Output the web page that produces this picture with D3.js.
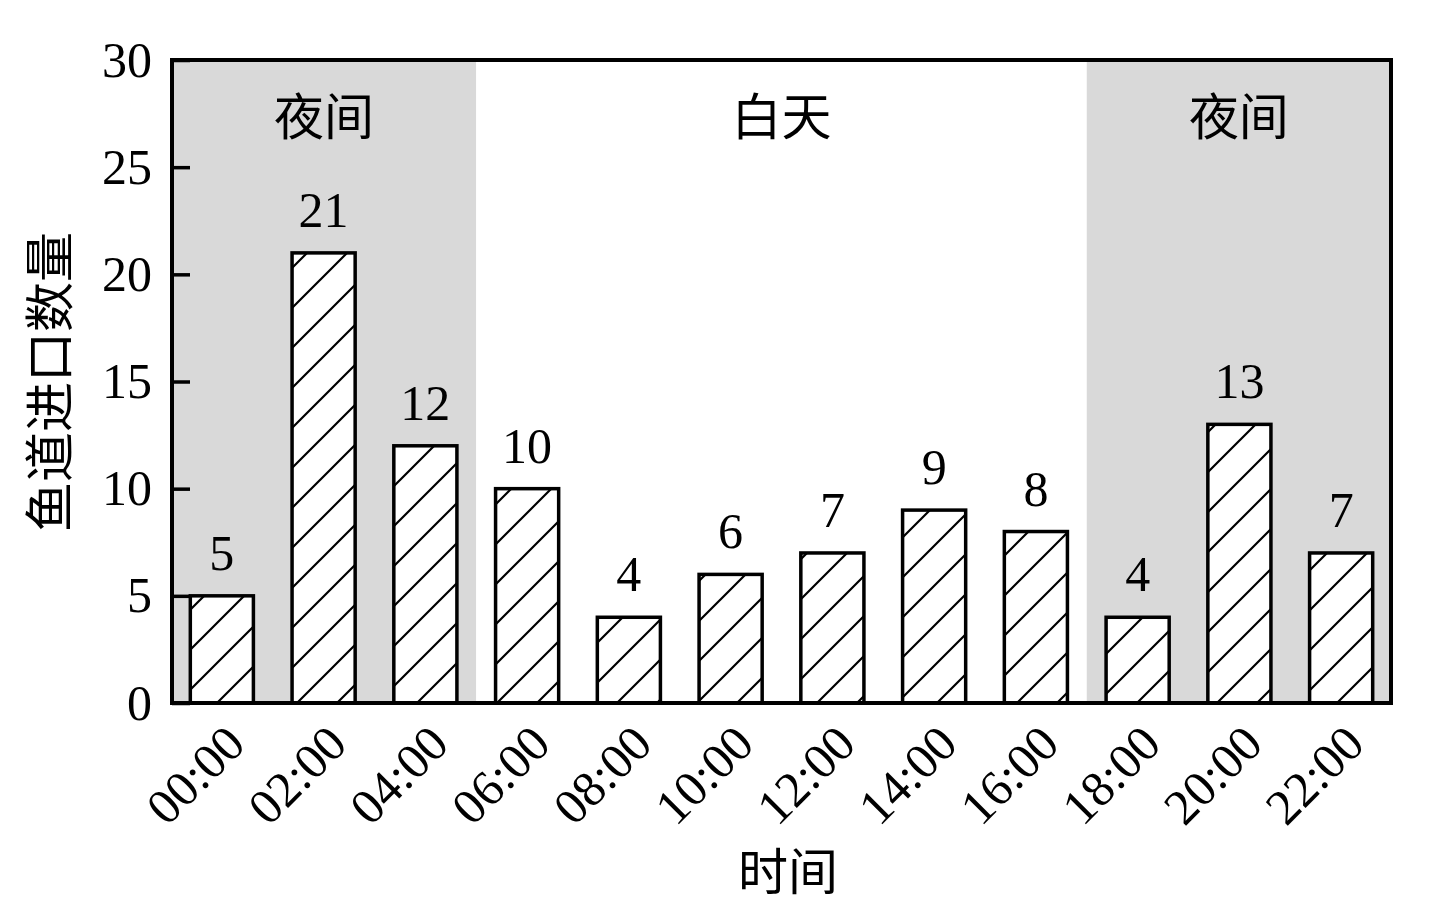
<!DOCTYPE html>
<html>
<head>
<meta charset="utf-8">
<script src="https://cdn.jsdelivr.net/npm/d3@7"></script>
<style>
  body { margin: 0; background: #fff; }
  .num { font-family: "Liberation Serif", "Times New Roman", serif; }
  .cjk { font-family: "Noto Sans CJK SC", sans-serif; }
</style>
</head>
<body>
<svg id="chart"></svg>
<script>
// chart data
const hours = ["00:00", "02:00", "04:00", "06:00", "08:00", "10:00",
               "12:00", "14:00", "16:00", "18:00", "20:00", "22:00"];
const counts = [5, 21, 12, 10, 4, 6, 7, 9, 8, 4, 13, 7];
const yTicks = [0, 5, 10, 15, 20, 25, 30];

// day / night periods
const periodLabels = ["夜间", "白天", "夜间"];
const periodFrom = ["00:00", "06:00", "18:00"];
const periodTo = ["04:00", "16:00", "22:00"];
const periodShaded = [true, false, true];

const yTitle = "鱼道进口数量";
const xTitle = "时间";

const width = 1437, height = 924;
const margin = { top: 60, right: 46, bottom: 221, left: 172 };
const plotRight = width - margin.right;
const plotBottom = height - margin.bottom;

const svg = d3.select("#chart")
  .attr("width", width)
  .attr("height", height);

// hatch pattern for bars
const pattern = svg.append("defs")
  .append("pattern")
  .attr("id", "hatch")
  .attr("patternUnits", "userSpaceOnUse")
  .attr("width", 40)
  .attr("height", 40);
pattern.append("path")
  .attr("d", "M0,40 L40,0 M-10,10 L10,-10 M30,50 L50,30")
  .attr("stroke", "#000")
  .attr("stroke-width", 2.2);

const x = d3.scaleBand()
  .domain(hours)
  .range([margin.left, plotRight])
  .paddingInner(0.38)
  .paddingOuter(0.18);

const y = d3.scaleLinear()
  .domain([0, 30])
  .range([plotBottom, margin.top]);

const gap = x.step() - x.bandwidth();

// background bands
const periods = periodLabels.map((label, i) => {
  const x0 = periodFrom[i] === hours[0] ? margin.left : x(periodFrom[i]) - gap / 2;
  const x1 = periodTo[i] === hours[hours.length - 1] ? plotRight : x(periodTo[i]) + x.bandwidth() + gap / 2;
  return { label, x0, x1, shaded: periodShaded[i] };
});

svg.append("g")
  .selectAll("rect")
  .data(periods)
  .join("rect")
  .attr("x", d => d.x0)
  .attr("y", margin.top)
  .attr("width", d => d.x1 - d.x0)
  .attr("height", plotBottom - margin.top)
  .attr("fill", d => d.shaded ? "#d9d9d9" : "#fff");

svg.append("g")
  .selectAll("text")
  .data(periods)
  .join("text")
  .attr("class", "cjk")
  .attr("x", d => (d.x0 + d.x1) / 2)
  .attr("y", 117)
  .attr("dy", "0.36em")
  .attr("text-anchor", "middle")
  .attr("font-size", 50)
  .text(d => d.label);

// bars
const bars = svg.append("g");
bars.selectAll(".bar-bg")
  .data(counts)
  .join("rect")
  .attr("class", "bar-bg")
  .attr("x", (d, i) => x(hours[i]))
  .attr("y", d => y(d))
  .attr("width", x.bandwidth())
  .attr("height", d => plotBottom - y(d))
  .attr("fill", "#fff");
bars.selectAll(".bar")
  .data(counts)
  .join("rect")
  .attr("class", "bar")
  .attr("x", (d, i) => x(hours[i]))
  .attr("y", d => y(d))
  .attr("width", x.bandwidth())
  .attr("height", d => plotBottom - y(d))
  .attr("fill", "url(#hatch)")
  .attr("stroke", "#000")
  .attr("stroke-width", 3.5);

// value labels
svg.append("g")
  .selectAll("text")
  .data(counts)
  .join("text")
  .attr("class", "num")
  .attr("x", (d, i) => x(hours[i]) + x.bandwidth() / 2)
  .attr("y", d => y(d) - 26)
  .attr("text-anchor", "middle")
  .attr("font-size", 50)
  .text(d => d);

// frame
svg.append("rect")
  .attr("x", margin.left)
  .attr("y", margin.top)
  .attr("width", plotRight - margin.left)
  .attr("height", plotBottom - margin.top)
  .attr("fill", "none")
  .attr("stroke", "#000")
  .attr("stroke-width", 4);

// y axis
const yAxis = svg.append("g")
  .attr("transform", `translate(${margin.left},0)`)
  .call(d3.axisLeft(y).tickValues(yTicks).tickSizeInner(-18).tickSizeOuter(0).tickPadding(20));
yAxis.select(".domain").remove();
yAxis.selectAll(".tick line").attr("stroke-width", 3.5);
yAxis.selectAll(".tick text")
  .attr("class", "num")
  .attr("font-size", 50)
  .attr("fill", "#000");

// x tick labels
svg.append("g")
  .selectAll("text")
  .data(hours)
  .join("text")
  .attr("class", "num")
  .attr("transform", d => `translate(${x(d) + x.bandwidth() / 2 + 14},${plotBottom + 32}) rotate(-45)`)
  .attr("dy", "0.33em")
  .attr("text-anchor", "end")
  .attr("font-size", 50)
  .text(d => d);

// axis titles
svg.append("text")
  .attr("class", "cjk")
  .attr("transform", `translate(50,382) rotate(-90)`)
  .attr("dy", "0.36em")
  .attr("text-anchor", "middle")
  .attr("font-size", 50)
  .text(yTitle);

svg.append("text")
  .attr("class", "cjk")
  .attr("x", 788)
  .attr("y", 872)
  .attr("dy", "0.36em")
  .attr("text-anchor", "middle")
  .attr("font-size", 50)
  .text(xTitle);
</script>
</body>
</html>
